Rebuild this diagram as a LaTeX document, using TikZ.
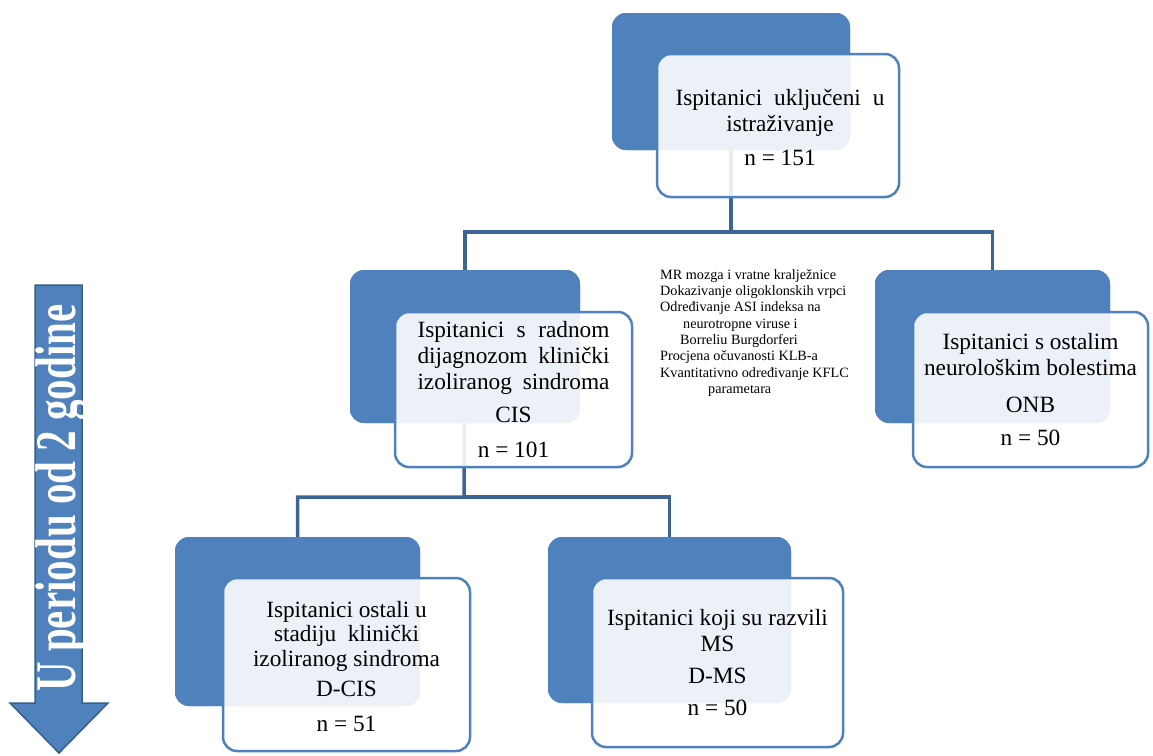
\documentclass[tikz,border=0pt]{standalone}
\usepackage{fontspec}
\setmainfont{Liberation Serif}
\usetikzlibrary{calc}
\definecolor{oblue}{HTML}{4F81BD}
\definecolor{dblue}{HTML}{3C6596}
\definecolor{ablue}{HTML}{385D8A}
\begin{document}
\begin{tikzpicture}[x=1pt,y=-1pt,
  bluebox/.style={fill=oblue, draw=none, rounded corners=14pt, inner sep=0pt, outer sep=0pt, anchor=north west},
  whitebox/.style={fill=white, fill opacity=0.89, draw=oblue, draw opacity=1, line width=2.5pt, rounded corners=14pt, inner sep=0pt, outer sep=0pt, anchor=north west},
  conn/.style={draw=dblue, line width=3.5pt},
  lbl/.style={align=center, font=\fontsize{23.3}{26}\selectfont, text=black, inner sep=0pt},
  small/.style={align=left, font=\fontsize{14.2}{16.3}\selectfont, text=black, inner sep=0pt, anchor=west}]
\useasboundingbox (0,0) rectangle (1153,755);
% blue back boxes
\node[bluebox, minimum width=238pt, minimum height=137pt] (topB) at (612,13) {};
\node[bluebox, minimum width=230pt, minimum height=153pt] (cisB) at (350,270) {};
\node[bluebox, minimum width=235pt, minimum height=153pt] (onbB) at (875,270) {};
\node[bluebox, minimum width=245pt, minimum height=169pt] (dcisB) at (175,537) {};
\node[bluebox, minimum width=243pt, minimum height=166pt] (dmsB) at (548,537) {};
% connectors
\coordinate (j1) at (731,232);
\coordinate (j2) at (464,497);
\draw[conn] (topB.center) -- (j1) -| (cisB.center);
\draw[conn] (j1) -| (onbB.center);
\draw[conn] (cisB.center) -- (j2) -| (dcisB.center);
\draw[conn] (j2) -| (dmsB.center);
% redraw blue boxes above connectors
\node[bluebox, minimum width=238pt, minimum height=137pt] at (612,13) {};
\node[bluebox, minimum width=230pt, minimum height=153pt] at (350,270) {};
\node[bluebox, minimum width=235pt, minimum height=153pt] at (875,270) {};
\node[bluebox, minimum width=245pt, minimum height=169pt] at (175,537) {};
\node[bluebox, minimum width=243pt, minimum height=166pt] at (548,537) {};
% white front boxes
\node[whitebox, minimum width=242pt, minimum height=143pt] (topW) at (657,54) {};
\node[whitebox, minimum width=237pt, minimum height=155pt] (cisW) at (395,312) {};
\node[whitebox, minimum width=235pt, minimum height=155pt] (onbW) at (913,312) {};
\node[whitebox, minimum width=247pt, minimum height=173pt] (dcisW) at (223,578) {};
\node[whitebox, minimum width=251pt, minimum height=169pt] (dmsW) at (592,578) {};
% texts
\node[lbl] (topT) at ($(topW.center)+(2,2)$) {\makebox[209pt][s]{Ispitanici uključeni u}\\istraživanje\\[8pt]n = 151};
\node[lbl] (cisT) at ($(cisW.center)+(0,0)$) {\makebox[192pt][s]{Ispitanici s radnom}\\\makebox[192pt][s]{dijagnozom klinički}\\\makebox[192pt][s]{izoliranog sindroma}\\[7pt]CIS\\[9pt]n = 101};
\node[lbl] (onbT) at ($(onbW.center)+(0,0)$) {Ispitanici s ostalim\\neurološkim bolestima\\[11pt]ONB\\[7pt]n = 50};
\node[lbl, font=\fontsize{23.3}{24.5}\selectfont] (dcisT) at ($(dcisW.center)+(0,2)$) {Ispitanici ostali u\\stadiju\ \ klinički\\izoliranog sindroma\\[6pt]D-CIS\\[10pt]n = 51};
\node[lbl] (dmsT) at ($(dmsW.center)+(0,0)$) {Ispitanici koji su razvili\\MS\\[6pt]D-MS\\[6pt]n = 50};
\node[small] (exams) at (660,333) {MR mozga i vratne kralježnice\\Dokazivanje oligoklonskih vrpci\\Određivanje ASI indeksa na\\\hspace*{23pt}neurotropne viruse i\\\hspace*{20pt}Borreliu Burgdorferi\\Procjena očuvanosti KLB-a\\Kvantitativno određivanje KFLC\\\hspace*{48pt}parametara};
% time arrow
\draw[fill=oblue, draw=ablue, line width=1.5pt, line join=miter]
  (35,285) -- (82,285) -- (82,703) -- (108,703) -- (59,753) -- (10,703) -- (35,703) -- cycle;
\node[rotate=90, text=white, inner sep=0pt, font=\bfseries\fontsize{41}{41}\selectfont] (period) at (62,498) {\scalebox{1}[1.4]{U periodu od 2 godine}};
\end{tikzpicture}
\end{document}
